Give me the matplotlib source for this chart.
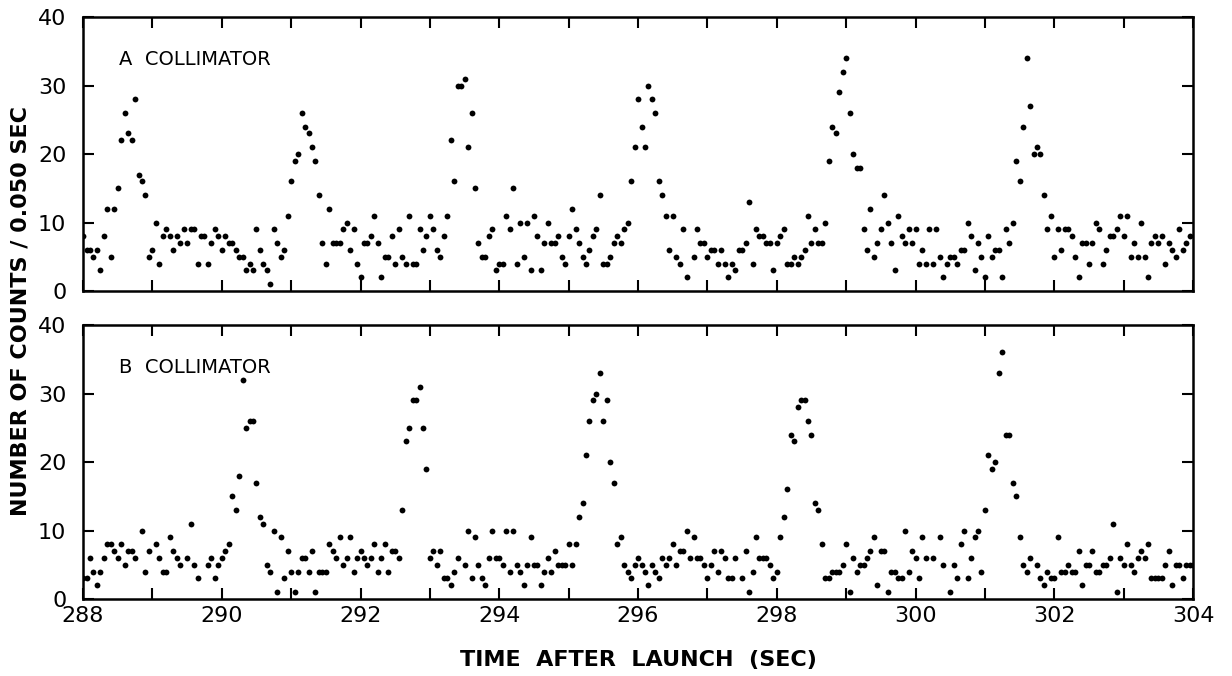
import numpy as np
import matplotlib
matplotlib.use("Agg")
import matplotlib.pyplot as plt
from matplotlib.ticker import MultipleLocator

plt.rcParams['font.family'] = ['DejaVu Sans']

# Time axis: bins of 0.050 s starting at 288 s
t_start = 288.0
bin_width = 0.05
x_ticks = [288, 290, 292, 294, 296, 298, 300, 302, 304]
y_ticks = [0, 10, 20, 30, 40]

# Panel A counts per 0.050 s bin (None = no point visible)
counts_a = [8, 6, 6, 5, 6, 3, 8, 12, 5, 12, 15, 22, 26, 23, 22, 28, 17, 16, 14, 5,
            6, 10, 4, 8, 9, 8, 6, 8, 7, 9, 7, 9, 9, 4, 8, 8, 4, 7, 9, 8,
            6, 8, 7, 7, 6, 5, 5, 3, 4, 3, 9, 6,
            4, 3, 1, 9, 7, 5, 6, 11, 16, 19, 20, 26, 24, 23, 21, 19, 14, 7, 4, 12,
            7, 7, 7, 9, 10, 6, 9, 4, 2, 7, 7, 8, 11, 7, 2, 5, 5, 8, 4, 9,
            5, 4, 11, 4, 4, 9, 6, 8, 11, 9, 6, 5, 8, 11,
            22, 16, 30, 30, 31, 21, 26, 15, 7, 5, 5, 8, 9, 3, 4, 4, 11, 9, 15, 4,
            10, 5, 10, 3, 11, 8, 3, 7, 10, 7, 7, 8, 5, 4, 8, 12, 9, 7, 5, 4,
            6, 8, 9, 14, 4, 4, 5, 7, 8, 7, 9, 10, 16, 21, 28,
            24, 21, 30, 28, 26, 16, 14, 11, 6, 11, 5, 4, 9, 2, None, 5, 9, 7, 7, 5,
            6, 6, 4, 6, 4, 2, 4, 3, 6, 6, 7, 13, 4, 9, 8, 8, 7, 7, 3, 7,
            8, 9, 4, 4, 5, 4, 5, 6, 11, 7, 9, 7, 7, 10,
            19, 24, 23, 29, 32, 34, 26, 20, 18, 18, 9, 6, 12, 5, 7, 9, 14, 10, 7, 3,
            11, 8, 7, 9, 7, 9, 4, 6, 4, 9, 4, 9, 5, 2, 4, 5, 5, 4, 6, 6,
            10, 8, 3, 7, 5, 2, 8, 5, 6, 6, 2, 9, 7, 10, 19,
            16, 24, 34, 27, 20, 21, 20, 14, 9, 11, 5, 9, 6, 9, 9, 8, 5, 2, 7, 7,
            4, 7, 10, 9, 4, 6, 8, 8, 9, 11, 8, 11, 5, 7, 5, 10, 5, 2, 7, 8,
            7, 8, 4, 7, 6, 5, 9, 6, 7, 8]

# Panel B counts per 0.050 s bin
counts_b = [3, 3, 6, 4, 2, 4, 6, 8, 8, 7, 6, 8, 5, 7, 7, 6, None, 10, 4, 7,
            None, 8, 6, 4, 4, 9, 7, 6, 5, None, 6, 11, 5, 3, None, None, 5, 6, 3, 5,
            6, 7, 8, 15, 13, 18, 32, 25, 26, 26, 17,
            12, 11, 5, 4, 10, 1, 9, 3, 7, 4, 1, 4, 6, 6, 4, 7, 1, 4, 4, 4,
            8, 7, 6, 9, 5, 6, 9, 4, 6, 7, 6, 5, 6, 8, 4, 6, 8, 4, 7, 7,
            6, 13, 23, 25, 29, 29, 31, 25, 19, 6, 7, 5, 7, 3, 3,
            2, 4, 6, None, 5, 10, 3, 9, 5, 3, 2, 6, 10, 6, 6, 5, 10, 4, 10, 5,
            4, 2, 5, 9, 5, 5, 2, 4, 6, 4, 7, 5, 5, 5, 8, 5, 8, 12, 14, 21,
            26, 29, 30, 33, 26, 29, 20, 17, 8, 9, 5, 4, 3, 5, 6,
            5, 4, 2, 5, 4, 3, 6, 5, 6, 8, 5, 7, 7, 10, 6, 9, 6, 6, 5, 3,
            5, 7, 4, 7, 6, 3, 3, 6, None, 3, 7, 1, 4, 9, 6, 6, 6, 5, 3, 4,
            9, 12, 16, 24, 23, 28, 29, 29, 26, 24, 14, 13, 8, 3, 3,
            4, 4, 4, 5, 8, 1, 6, 4, 5, 5, 6, 7, 9, 2, 7, 7, 1, 4, 4, 3,
            3, 10, 4, 7, 6, 3, 9, 6, None, 6, None, 9, 5, None, 1, 5, 3, 8, 10, 3,
            6, 9, 10, 4, 13, 21, 19, 20, 33, 36, 24, 24, 17, 15,
            9, 5, 4, 6, None, 5, 3, 2, 4, 3, 3, 9, 4, 4, 5, 4, 4, 7, 2, 5,
            5, 7, 4, 4, 5, 5, 6, 11, 1, 6, 5, 8, 5, 4, 6, 7, 6, 8, 3, 3,
            3, 3, 5, 7, 2, 5, 5, 3, 5, 5, 5]

panel_labels = ["A  COLLIMATOR", "B  COLLIMATOR"]

fig = plt.figure(figsize=(12.32, 6.76), dpi=100)
left, width, height = 0.0674, 0.9010, 0.4053
ax_a = fig.add_axes([left, 0.5695, width, height])
ax_b = fig.add_axes([left, 0.1139, width, height])

for ax, counts, label in [(ax_a, counts_a, panel_labels[0]),
                          (ax_b, counts_b, panel_labels[1])]:
    y = np.array([np.nan if c is None else c for c in counts], dtype=float)
    x = t_start + bin_width * np.arange(len(y))
    ax.plot(x, y, linestyle='none', marker='o', markersize=4.2,
            color='black', markeredgewidth=0)
    ax.set_xlim(288, 304)
    ax.set_ylim(0, 40)
    ax.set_xticks(x_ticks)
    ax.xaxis.set_minor_locator(MultipleLocator(1))
    ax.set_yticks(y_ticks)
    ax.tick_params(axis='both', which='both', direction='in',
                   top=True, right=True, width=1.5, labelsize=16)
    ax.tick_params(axis='both', which='major', length=8)
    ax.tick_params(axis='x', which='minor', length=8)
    ax.tick_params(axis='y', pad=12)
    for sp in ax.spines.values():
        sp.set_linewidth(1.8)
    ax.text(0.032, 0.845, label, transform=ax.transAxes, fontsize=14,
            va='center', ha='left')

ax_a.tick_params(axis='x', labelbottom=False)
ax_b.tick_params(axis='x', pad=5)

fig.text(0.518, 0.024, "TIME  AFTER  LAUNCH  (SEC)", ha='center', va='center',
         fontsize=16, fontweight='bold')
fig.text(0.017, 0.54, "NUMBER OF COUNTS / 0.050 SEC", ha='center', va='center',
         rotation=90, fontsize=16, fontweight='bold')

fig.savefig("out.png", dpi=100)
